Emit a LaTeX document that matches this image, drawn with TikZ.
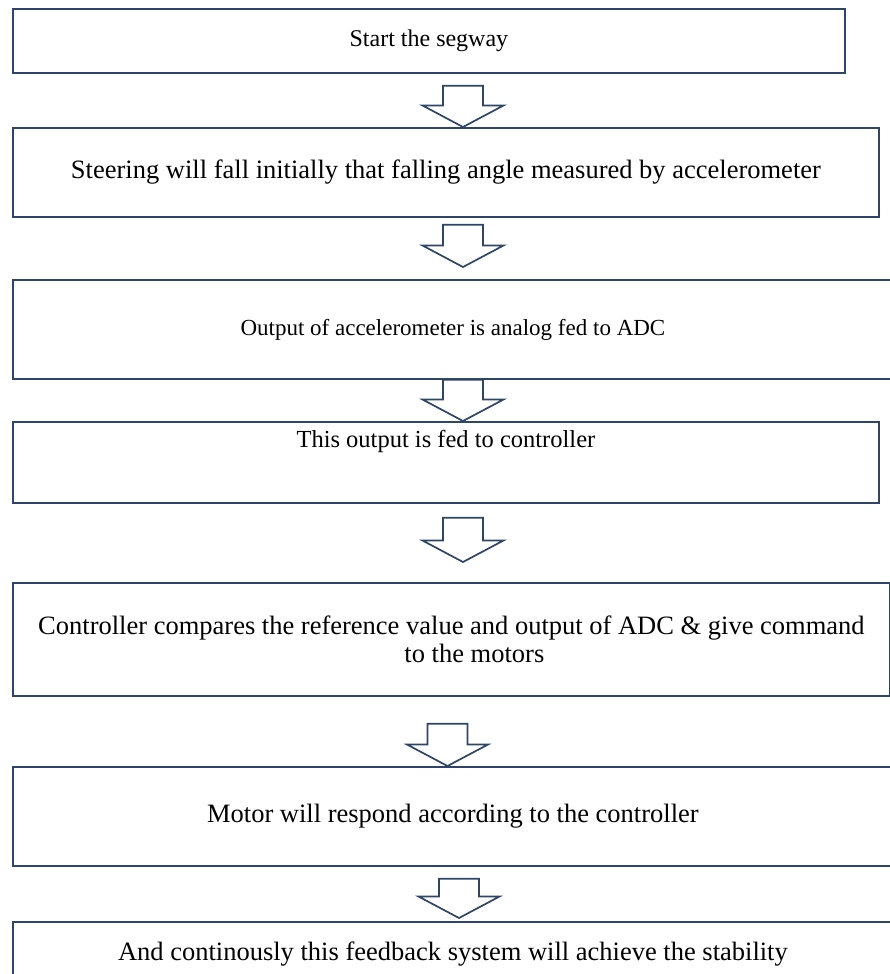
\documentclass[tikz,border=0pt]{standalone}
\usepackage{fontspec}
\setmainfont{Liberation Serif}
\usetikzlibrary{calc}

\definecolor{boxblue}{RGB}{47,69,104}

\tikzset{
  flowbox/.style={draw=boxblue, line width=1.8pt, rectangle, anchor=north west,
    inner sep=0pt, align=center, font=\fontsize{26.5}{28}\selectfont},
  smalltext/.style={font=\fontsize{24}{28}\selectfont},
  hollowarrow/.style={draw=boxblue, line width=1.7pt, line join=miter, fill=white}
}

% from, to, centre x, gap below 'from', gap above 'to'
\newcommand{\blockarrow}[5]{%
  \draw[hollowarrow] let \p1=(#1.south), \p2=(#2.north),
      \n1={\y1-#4pt}, \n2={\y2+#5pt}, \n3={\y2+#5pt+21.5pt} in
    ({#3pt-20pt},\n1) -- ({#3pt+20pt},\n1) -- ({#3pt+20pt},\n3)
    -- ({#3pt+40.5pt},\n3) -- (#3pt,\n2) -- ({#3pt-40.5pt},\n3)
    -- ({#3pt-20pt},\n3) -- cycle;
}

\begin{document}
\begin{tikzpicture}[x=1pt,y=-1pt]

\clip (0,0) rectangle (890,974);
\fill[white] (0,0) rectangle (890,974);

\node[flowbox, smalltext, minimum width=832pt, minimum height=64pt] (start) at (12,8)
  {Start the segway};
\node[flowbox, minimum width=866pt, minimum height=89pt] (steer) at (12,127)
  {Steering will fall initially that falling angle measured by accelerometer};
\node[flowbox, font=\fontsize{23}{28}\selectfont, minimum width=880pt, minimum height=99pt] (accel) at (12,279)
  {Output of accelerometer is analog fed to ADC};
\node[flowbox, minimum width=866pt, minimum height=81pt] (feed) at (12,421) {};
\node[font=\fontsize{24.5}{28}\selectfont, inner sep=0pt] (feedtext) at ($(feed.north)+(0,20)$)
  {This output is fed to controller};
\node[flowbox, minimum width=877pt, minimum height=113pt] (ctrl) at (12,582)
  {Controller compares the reference value and output of ADC \& give command\\\hspace*{46pt}to the motors};
\node[flowbox, minimum width=880pt, minimum height=99pt] (motor) at (12,766)
  {Motor will respond according to the controller};
\node[flowbox, minimum width=880pt, minimum height=64pt] (stable) at (12,921)
  {And continously this feedback system will achieve the stability};

\blockarrow{start}{steer}{463}{12}{0}
\blockarrow{steer}{accel}{463}{7}{12}
\blockarrow{accel}{feed}{463}{0}{0}
\blockarrow{feed}{ctrl}{463}{14}{20}
\blockarrow{ctrl}{motor}{447.5}{27}{0}
\blockarrow{motor}{stable}{459}{12}{3}

\end{tikzpicture}
\end{document}
